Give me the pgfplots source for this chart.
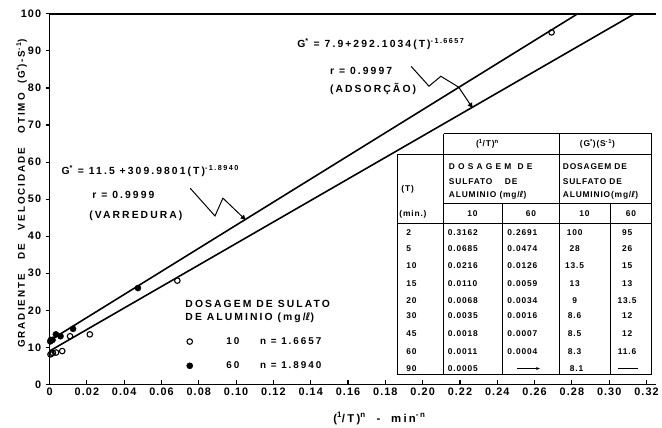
\documentclass[border=0pt]{standalone}
\usepackage{pgfplots}
\pgfplotsset{compat=1.18}
\usepackage{fontspec}
\setmainfont{Liberation Sans}
\newfontfamily\spf[LetterSpace=20]{Liberation Sans}
\newfontfamily\spt[LetterSpace=10]{Liberation Sans}
\newfontfamily\dejavu{DejaVu Sans}
\usetikzlibrary{arrows.meta}
\newcommand{\litre}{{\dejavu ℓ}}
\begin{document}
\begin{tikzpicture}[font=\bfseries]
\begin{axis}[
  scale only axis, width=612bp, height=374bp,
  xmin=0, xmax=0.325, ymin=0, ymax=100,
  axis x line*=bottom, axis y line*=left,
  clip=false,
  axis line style={line width=1.8bp},
  every tick/.style={black, line width=1.1bp},
  major tick length=4bp,
  xtick align=inside, ytick align=outside,
  xtick={0,0.02,0.04,0.06,0.08,0.10,0.12,0.14,0.16,0.18,0.20,0.22,0.24,0.26,0.28,0.30,0.32},
  xticklabels={0,0.02,0.04,0.06,0.08,0.10,0.12,0.14,0.16,0.18,0.20,0.22,0.24,0.26,0.28,0.30,0.32},
  ytick={0,10,20,30,40,50,60,70,80,90,100},
  /pgf/number format/assume math mode=true,
  ticklabel style={font=\spt\bfseries\fontsize{11}{12}\selectfont},
  yticklabel style={xshift=-1bp},
  xlabel={(\textsuperscript{1}/T)\textsuperscript{n}\ \ -\ \ min\textsuperscript{-n}},
  xlabel style={at={(axis description cs:0.544,-0.092)}, anchor=center, font=\spf\bfseries\fontsize{11.5}{12}\selectfont},
  ylabel={GRADIENTE\ \ \ DE\ \ \ VELOCIDADE\ \ \ OTIMO\ \ (G\textsuperscript{*})-S\textsuperscript{-1})},
  ylabel style={at={(axis description cs:-0.046,0.515)}, anchor=center, font=\spf\bfseries\fontsize{10}{12}\selectfont},
  legend style={at={(axis description cs:0.221,0.138)}, anchor=north west, draw=none, fill=none,
     font=\spf\bfseries\fontsize{10}{12}\selectfont, row sep=12bp},
  legend cell align=left,
]
\addplot[black, line width=1.6bp, forget plot] coordinates {(0,11.8) (0.2830,100)};
\addplot[black, line width=1.6bp, forget plot] coordinates {(0,9.0) (0.3135,100)};
\addplot[only marks, mark=o, mark size=2.8bp, mark options={line width=1.1bp, fill=white}] coordinates {
 (0.0005,8.1) (0.0011,8.3) (0.0018,8.5) (0.0035,8.6) (0.0068,9) (0.0110,13) (0.0216,13.5) (0.0685,28)};
\addlegendentry{\hspace{3.2em}10\hspace{2.1em}n = 1.6657}
\addplot[only marks, mark=*, mark size=3.1bp, black] coordinates {
 (0.0004,11.6) (0.0007,12) (0.0016,12) (0.0034,13.5) (0.0059,13) (0.0126,15) (0.0474,26)};
\addlegendentry{\hspace{3.2em}60\hspace{2.1em}n = 1.8940}
\addplot[only marks, mark=o, mark size=2.8bp, mark options={line width=1.1bp, fill=white}, forget plot] coordinates {(0.2691,95)};
\draw[line width=1.8bp] (rel axis cs:0,1) -- (rel axis cs:1,1);
\coordinate (O) at (rel axis cs:0,0);
\end{axis}
\begin{scope}[shift={(O)}, xshift=-50bp, yshift=388bp, x=1bp, y=-1bp]
 \path (0,0) rectangle (662,430);
 % annotations
 \begin{scope}[every node/.style={font=\spf\bfseries\fontsize{10.5}{12}\selectfont, inner sep=0pt}]
 \node[anchor=west] at (62,173) {G\textsuperscript{*} = 11.5 +309.9801(T)\textsuperscript{-1.8940}};
 \node[anchor=west] at (93,197) {r = 0.9999};
 \node[anchor=west] at (90,218) {(VARREDURA)};
 \node[anchor=west] at (300,44) {G\textsuperscript{*} = 7.9+292.1034(T)\textsuperscript{-1.6657}};
 \node[anchor=west] at (333,72) {r = 0.9997};
 \node[anchor=west] at (333,90) {(ADSORÇÃO)};
 \node[anchor=west] at (187,307) {DOSAGEM DE SULATO};
 \node[anchor=west] at (187,321) {DE ALUMINIO (mg/\litre)};
 \end{scope}
 \draw[line width=1bp, -{Triangle[length=5bp,width=5bp]}] (192,190) -- (217,218) -- (225,200) -- (248,222);
 \draw[line width=1bp, -{Triangle[length=5bp,width=5bp]}] (415,67) -- (433,87) -- (445,77) -- (463,88) -- (477,109);
 % table
 \begin{scope}[line width=1.1bp]
 \draw (448,135) -- (658,135);
 \draw (401,156) -- (658,156);
 \draw (448,205) -- (658,205);
 \draw (401,226) -- (658,226);
 \draw (401,378) -- (658,378);
 \draw (401,156) -- (401,378);
 \draw (448,135) -- (448,378);
 \draw (507,205) -- (507,378);
 \draw (565,135) -- (565,378);
 \draw (616,205) -- (616,378);
 \draw (658,135) -- (658,378);
 \end{scope}
 \begin{scope}[every node/.style={font=\spt\bfseries\fontsize{8.5}{10}\selectfont, inner sep=0pt}]
 \node at (492,145) {(\textsuperscript{1}/T)\textsuperscript{n}};
 \node at (603,145) {(G\textsuperscript{*})(S\textsuperscript{-1})};
 \node[anchor=west] at (453,168) {D O S A G E M\ \ D E};
 \node[anchor=west] at (453,183) {SULFATO\hspace{1.5em}DE};
 \node[anchor=west] at (453,197) {ALUMINIO (mg/\litre)};
 \node[anchor=west] at (568,168) {DOSAGEM DE};
 \node[anchor=west] at (568,183) {SULFATO DE};
 \node[anchor=west] at (568,197) {ALUMINIO(mg/\litre)};
 \node[anchor=west] at (405,191) {(T)};
 \node[anchor=west] at (403,216) {(min.)};
 \node at (477,216) {10};
 \node at (536,216) {60};
 \node at (590,216) {10};
 \node at (637,216) {60};
 \foreach \yy/\t/\a/\b/\c/\d in {235/2/0.3162/0.2691/100/95, 251/5/0.0685/0.0474/28/26, 268/10/0.0216/0.0126/13.5/15,
   286/15/0.0110/0.0059/13/13, 303/20/0.0068/0.0034/9/13.5, 319/30/0.0035/0.0016/8.6/12,
   337/45/0.0018/0.0007/8.5/12, 355/60/0.0011/0.0004/8.3/11.6} {
   \node[anchor=west] at (410,\yy) {\t};
   \node[anchor=west] at (452,\yy) {\a};
   \node[anchor=west] at (512,\yy) {\b};
   \node at (580,\yy) {\c};
   \node at (633,\yy) {\d};
 }
 \node[anchor=west] at (410,372) {90};
 \node[anchor=west] at (452,372) {0.0005};
 \node at (582,372) {8.1};
 \end{scope}
 \draw[line width=1bp, -{Stealth[length=4bp]}] (522,372) -- (545,372);
 \draw[line width=1.1bp] (624,372) -- (644,372);
\end{scope}
\end{tikzpicture}
\end{document}
